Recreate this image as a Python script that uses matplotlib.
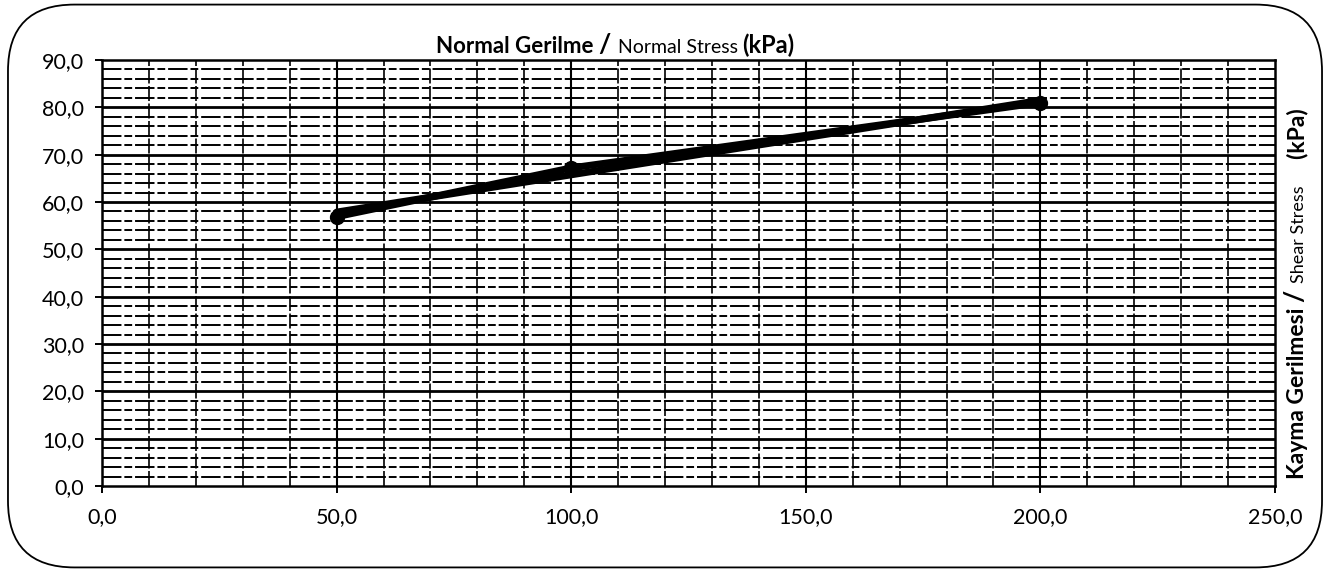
import matplotlib
matplotlib.use("Agg")
import matplotlib.pyplot as plt
from matplotlib.patches import FancyBboxPatch
from matplotlib.ticker import FuncFormatter
import numpy as np

# Direct shear test results
normal_stress = [50.0, 100.0, 200.0]   # kPa
shear_stress = [56.9, 67.2, 81.0]      # kPa

x_ticks = [0, 50, 100, 150, 200, 250]
y_ticks = [0, 10, 20, 30, 40, 50, 60, 70, 80, 90]

FONT = "Lato"
plt.rcParams["font.family"] = [FONT, "DejaVu Sans"]

fig = plt.figure(figsize=(13.3, 5.72), dpi=100)

# rounded frame around the chart
frame = FancyBboxPatch((0.006, 0.008), 0.988, 0.984,
                       boxstyle="round,pad=0,rounding_size=0.05",
                       transform=fig.transFigure, fill=False,
                       edgecolor="black", linewidth=1.3,
                       mutation_aspect=1330 / 572)
fig.patches.append(frame)

ax = fig.add_axes([0.0767, 0.1503, 0.8819, 0.7448])
ax.set_xlim(0, 250)
ax.set_ylim(0, 90)

# grid: vertical every 10, horizontal every 2, stronger every 10
for xv in np.arange(10, 250, 10):
    ax.axvline(xv, color="black", lw=1.2 if xv % 50 else 1.5,
               ls=(0, (9, 1.5)) if xv % 50 else "-", zorder=1)
for yv in np.arange(2, 90, 2):
    major = yv % 10 == 0
    ax.axhline(yv, color="black", lw=2.0 if major else 1.4,
               ls="-" if major else (0, (10, 1.5, 4, 1.5)), zorder=1)

# measured points joined, plus least-squares failure envelope
ax.plot(normal_stress, shear_stress, color="black", lw=5,
        solid_capstyle="round", solid_joinstyle="round", zorder=3)
coef = np.polyfit(normal_stress, shear_stress, 1)
fx = np.array([min(normal_stress), max(normal_stress)])
ax.plot(fx, np.polyval(coef, fx), color="black", lw=5,
        solid_capstyle="round", zorder=3)
ax.plot(normal_stress, shear_stress, "o", color="black", ms=10, zorder=4)

fmt = FuncFormatter(lambda v, p: f"{v:.1f}".replace(".", ","))
ax.set_xticks(x_ticks)
ax.set_yticks(y_ticks)
ax.xaxis.set_major_formatter(fmt)
ax.yaxis.set_major_formatter(fmt)
ax.tick_params(axis="both", labelsize=15.5, colors="black", width=1.4,
               length=5, direction="out")
ax.tick_params(axis="x", pad=10)
ax.tick_params(axis="y", pad=8)
for s in ax.spines.values():
    s.set_linewidth(1.8)
    s.set_color("black")


def rich_text(fig, start, parts, rotation=0):
    """Draw consecutive text segments with mixed styles, left to right
    (or bottom to top when rotated)."""
    renderer = fig.canvas.get_renderer()
    x, y = start
    for txt, kw in parts:
        t = fig.text(x, y, txt, transform=None, rotation=rotation,
                     ha="left", va="baseline", rotation_mode="anchor",
                     color="black", **kw)
        bb = t.get_window_extent(renderer)
        if rotation == 0:
            x += bb.width
        else:
            y += bb.height


H = 572
# top axis title
parts_top = [("Normal Gerilme ", dict(fontsize=16, fontweight="bold")),
             ("/ ", dict(fontsize=19, fontweight="bold")),
             ("Normal Stress ", dict(fontsize=14)),
             ("(kPa)", dict(fontsize=17, fontweight="bold"))]
rich_text(fig, (436, H - 53), parts_top)

# right vertical axis title
parts_right = [("Kayma Gerilmesi ", dict(fontsize=16.5, fontweight="bold")),
               ("/ ", dict(fontsize=19, fontweight="bold")),
               ("Shear Stress ", dict(fontsize=13)),
               ("    (kPa)", dict(fontsize=16.5, fontweight="bold"))]
rich_text(fig, (1304, H - 479), parts_right, rotation=90)

fig.savefig("out.png", dpi=100)
